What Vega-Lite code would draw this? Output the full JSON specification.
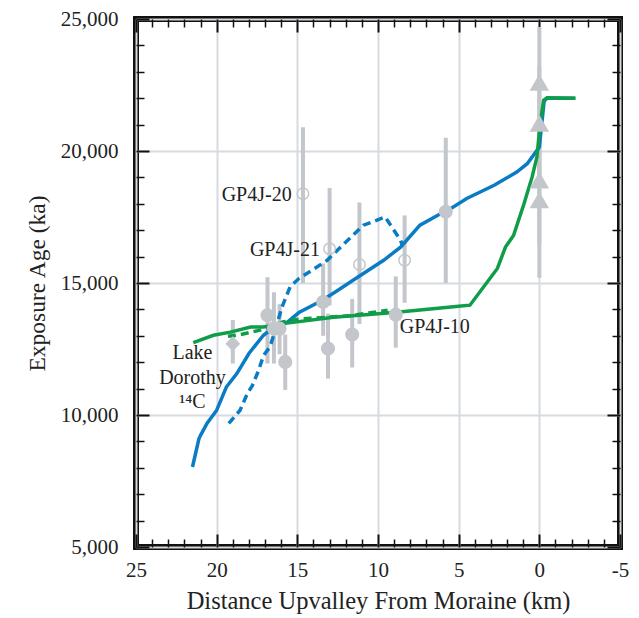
{
  "$schema": "https://vega.github.io/schema/vega-lite/v6.json",
  "width": 484,
  "height": 528,
  "autosize": {"type": "none"},
  "padding": {"left": 136, "top": 19, "right": 19, "bottom": 71},
  "background": "white",
  "config": {
    "view": {"stroke": "#111111", "strokeWidth": 6},
    "font": "'Liberation Serif', 'DejaVu Serif', serif",
    "axis": {"labelFont": "'Liberation Serif', 'DejaVu Serif', serif", "titleFont": "'Liberation Serif', 'DejaVu Serif', serif", "labelColor": "#222222", "titleColor": "#222222", "titleFontWeight": "normal"}
  },
  "datasets": {
    "filled": [
      {"x": 5.8, "y": 17700, "lo": 15000, "hi": 20500},
      {"x": 8.9, "y": 13800, "lo": 12550, "hi": 15250},
      {"x": 13.4, "y": 14280, "lo": 13000, "hi": 15740},
      {"x": 13.1, "y": 12520, "lo": 11380, "hi": 13840},
      {"x": 11.6, "y": 13050, "lo": 11800, "hi": 14400},
      {"x": 16.85, "y": 13780, "lo": 11950, "hi": 15220},
      {"x": 16.45, "y": 13280, "lo": 11950, "hi": 14650},
      {"x": 16.1, "y": 13270, "lo": 12300, "hi": 14200},
      {"x": 15.75, "y": 12010, "lo": 10950, "hi": 13050}
    ],
    "open": [
      {"x": 14.65, "y": 18380, "lo": 15000, "hi": 20900},
      {"x": 13.0, "y": 16300, "lo": 14150, "hi": 18600},
      {"x": 11.15, "y": 15700, "lo": 13450, "hi": 18050},
      {"x": 8.35, "y": 15860, "lo": 14250, "hi": 17560}
    ],
    "tri": [
      {"x": 0, "y": 22600, "lo": 20500, "hi": 24700},
      {"x": 0, "y": 21050, "lo": 18900, "hi": 23200},
      {"x": 0, "y": 18900, "lo": 16500, "hi": 21300},
      {"x": 0, "y": 18150, "lo": 15200, "hi": 21100}
    ],
    "diamond": [
      {"x": 19.0, "y": 12700, "lo": 11950, "hi": 13600}
    ],
    "blue": [
      {"x": 21.5, "y": 8030}, {"x": 21.1, "y": 9100}, {"x": 21.0, "y": 9230}, {"x": 20.6, "y": 9680},
      {"x": 20.0, "y": 10180}, {"x": 19.4, "y": 11060}, {"x": 18.75, "y": 11570}, {"x": 18.0, "y": 12330},
      {"x": 17.6, "y": 12640}, {"x": 17.1, "y": 13020}, {"x": 16.7, "y": 13210}, {"x": 16.2, "y": 13350},
      {"x": 15.65, "y": 13500}, {"x": 14.9, "y": 13880}, {"x": 13.5, "y": 14330}, {"x": 12.6, "y": 14680},
      {"x": 11.5, "y": 15120}, {"x": 9.65, "y": 15860}, {"x": 8.6, "y": 16360}, {"x": 7.4, "y": 17190},
      {"x": 6.1, "y": 17630}, {"x": 5.8, "y": 17700}, {"x": 4.5, "y": 18200}, {"x": 2.8, "y": 18700},
      {"x": 1.4, "y": 19200}, {"x": 0.75, "y": 19520}, {"x": 0.0, "y": 20150}, {"x": -0.3, "y": 21900},
      {"x": -0.5, "y": 22000}, {"x": -2.2, "y": 22000}
    ],
    "blueDash": [
      {"x": 19.25, "y": 9680}, {"x": 18.55, "y": 10180}, {"x": 18.1, "y": 10810}, {"x": 17.8, "y": 11100},
      {"x": 17.4, "y": 11690}, {"x": 17.1, "y": 12250}, {"x": 16.7, "y": 12580}, {"x": 16.4, "y": 13150},
      {"x": 15.95, "y": 14090}, {"x": 15.45, "y": 14850}, {"x": 14.9, "y": 15170}, {"x": 14.1, "y": 15480},
      {"x": 13.15, "y": 15860}, {"x": 12.1, "y": 16490}, {"x": 10.9, "y": 17190}, {"x": 9.55, "y": 17500},
      {"x": 9.35, "y": 17310}, {"x": 8.6, "y": 16620}, {"x": 8.5, "y": 16430}
    ],
    "green": [
      {"x": 21.45, "y": 12740}, {"x": 20.2, "y": 13020}, {"x": 19.15, "y": 13140}, {"x": 17.9, "y": 13330},
      {"x": 17.1, "y": 13330}, {"x": 15.65, "y": 13480}, {"x": 12.75, "y": 13700}, {"x": 9.0, "y": 13880},
      {"x": 5.0, "y": 14120}, {"x": 4.3, "y": 14160}, {"x": 2.6, "y": 15550}, {"x": 2.1, "y": 16360},
      {"x": 1.6, "y": 16800}, {"x": 0.95, "y": 18000}, {"x": 0.45, "y": 19010}, {"x": 0.15, "y": 19770},
      {"x": -0.05, "y": 21040}, {"x": -0.27, "y": 21920}, {"x": -0.48, "y": 22020}, {"x": -2.25, "y": 22000}
    ],
    "greenDash": [
      {"x": 19.3, "y": 12980}, {"x": 18.5, "y": 13050}, {"x": 17.2, "y": 13230}, {"x": 15.85, "y": 13530},
      {"x": 14.8, "y": 13640}, {"x": 11.7, "y": 13760}, {"x": 9.4, "y": 13970}
    ],
    "labelsRight": [
      {"x": 15.35, "y": 18330, "t": "GP4J-20"},
      {"x": 13.6, "y": 16250, "t": "GP4J-21"}
    ],
    "labelsLeft": [
      {"x": 8.65, "y": 13330, "t": "GP4J-10"}
    ],
    "labelsCenter": [
      {"x": 21.5, "y": 12360, "t": "Lake"},
      {"x": 21.5, "y": 11410, "t": "Dorothy"},
      {"x": 21.5, "y": 10480, "t": "¹⁴C"}
    ]
  },
  "resolve": {"axis": {"x": "independent", "y": "independent"}},
  "layer": [
    {
      "data": {"name": "filled"},
      "mark": {"type": "rule", "color": "#c3c6cb", "strokeWidth": 4},
      "encoding": {
        "x": {"field": "x", "type": "quantitative", "scale": {"domain": [-5, 25], "reverse": true, "nice": false, "zero": false},
          "axis": {"orient": "bottom", "values": [25, 20, 15, 10, 5, 0, -5], "labelExpr": "'' + datum.value", "ticks": false, "domain": false, "grid": true, "gridColor": "#d6dae1", "gridWidth": 2, "labelFontSize": 21, "labelPadding": 12, "labelFlush": false, "title": "Distance Upvalley From Moraine (km)", "titleFontSize": 24.5, "titlePadding": 9}},
        "y": {"field": "lo", "type": "quantitative", "scale": {"domain": [5000, 25000], "nice": false, "zero": false},
          "axis": {"orient": "left", "values": [5000, 10000, 15000, 20000, 25000], "format": ",d", "ticks": false, "domain": false, "grid": true, "gridColor": "#d6dae1", "gridWidth": 2, "labelFontSize": 21, "labelPadding": 18, "labelFlush": false, "title": "Exposure Age (ka)", "titleFontSize": 23.5, "titlePadding": 11}},
        "y2": {"field": "hi"}
      }
    },
    {
      "data": {"name": "open"},
      "mark": {"type": "rule", "color": "#c3c6cb", "strokeWidth": 4},
      "encoding": {
        "x": {"field": "x", "type": "quantitative", "scale": {"domain": [-5, 25], "reverse": true, "nice": false, "zero": false},
          "axis": {"orient": "bottom", "values": [24, 23, 22, 21, 19, 18, 17, 16, 14, 13, 12, 11, 9, 8, 7, 6, 4, 3, 2, 1, -1, -2, -3, -4], "labels": false, "domain": false, "grid": false, "ticks": true, "tickSize": -8, "tickWidth": 1.5, "tickColor": "#111111", "title": null}},
        "y": {"field": "lo", "type": "quantitative", "scale": {"domain": [5000, 25000], "nice": false, "zero": false},
          "axis": {"orient": "left", "values": [6000, 7000, 8000, 9000, 11000, 12000, 13000, 14000, 16000, 17000, 18000, 19000, 21000, 22000, 23000, 24000], "labels": false, "domain": false, "grid": false, "ticks": true, "tickSize": -8, "tickWidth": 1.5, "tickColor": "#111111", "title": null}},
        "y2": {"field": "hi"}
      }
    },
    {
      "data": {"name": "tri"},
      "mark": {"type": "rule", "color": "#c3c6cb", "strokeWidth": 4},
      "encoding": {
        "x": {"field": "x", "type": "quantitative", "scale": {"domain": [-5, 25], "reverse": true, "nice": false, "zero": false},
          "axis": {"orient": "top", "values": [24, 23, 22, 21, 19, 18, 17, 16, 14, 13, 12, 11, 9, 8, 7, 6, 4, 3, 2, 1, -1, -2, -3, -4], "labels": false, "domain": false, "grid": false, "ticks": true, "tickSize": -8, "tickWidth": 1.5, "tickColor": "#111111", "title": null}},
        "y": {"field": "lo", "type": "quantitative", "scale": {"domain": [5000, 25000], "nice": false, "zero": false},
          "axis": {"orient": "right", "values": [6000, 7000, 8000, 9000, 11000, 12000, 13000, 14000, 16000, 17000, 18000, 19000, 21000, 22000, 23000, 24000], "labels": false, "domain": false, "grid": false, "ticks": true, "tickSize": -8, "tickWidth": 1.5, "tickColor": "#111111", "title": null}},
        "y2": {"field": "hi"}
      }
    },
    {
      "data": {"name": "diamond"},
      "mark": {"type": "rule", "color": "#c3c6cb", "strokeWidth": 4},
      "encoding": {
        "x": {"field": "x", "type": "quantitative", "scale": {"domain": [-5, 25], "reverse": true, "nice": false, "zero": false},
          "axis": {"orient": "top", "values": [25, 20, 15, 10, 5, 0, -5], "labels": false, "domain": false, "grid": false, "ticks": true, "tickSize": -13, "tickWidth": 2, "tickColor": "#111111", "title": null}},
        "y": {"field": "lo", "type": "quantitative", "scale": {"domain": [5000, 25000], "nice": false, "zero": false},
          "axis": {"orient": "right", "values": [5000, 10000, 15000, 20000, 25000], "labels": false, "domain": false, "grid": false, "ticks": true, "tickSize": -13, "tickWidth": 2, "tickColor": "#111111", "title": null}},
        "y2": {"field": "hi"}
      }
    },
    {
      "data": {"name": "blue"},
      "mark": {"type": "line", "color": "#0a7cc4", "strokeWidth": 3.5},
      "encoding": {
        "x": {"field": "x", "type": "quantitative", "scale": {"domain": [-5, 25], "reverse": true, "nice": false, "zero": false},
          "axis": {"orient": "bottom", "values": [25, 20, 15, 10, 5, 0, -5], "labels": false, "domain": false, "grid": false, "ticks": true, "tickSize": -13, "tickWidth": 2, "tickColor": "#111111", "title": null}},
        "y": {"field": "y", "type": "quantitative", "scale": {"domain": [5000, 25000], "nice": false, "zero": false},
          "axis": {"orient": "left", "values": [5000, 10000, 15000, 20000, 25000], "labels": false, "domain": false, "grid": false, "ticks": true, "tickSize": -13, "tickWidth": 2, "tickColor": "#111111", "title": null}}
      }
    },
    {
      "data": {"name": "green"},
      "mark": {"type": "line", "color": "#0f9d49", "strokeWidth": 3.5},
      "encoding": {
        "x": {"field": "x", "type": "quantitative", "scale": {"domain": [-5, 25], "reverse": true, "nice": false, "zero": false}, "axis": null},
        "y": {"field": "y", "type": "quantitative", "scale": {"domain": [5000, 25000], "nice": false, "zero": false}, "axis": null}
      }
    },
    {
      "data": {"name": "blueDash"},
      "mark": {"type": "line", "color": "#0a7cc4", "strokeWidth": 3.5, "strokeDash": [8, 5]},
      "encoding": {
        "x": {"field": "x", "type": "quantitative", "scale": {"domain": [-5, 25], "reverse": true, "nice": false, "zero": false}, "axis": null},
        "y": {"field": "y", "type": "quantitative", "scale": {"domain": [5000, 25000], "nice": false, "zero": false}, "axis": null}
      }
    },
    {
      "data": {"name": "greenDash"},
      "mark": {"type": "line", "color": "#0f9d49", "strokeWidth": 3.5, "strokeDash": [8, 5]},
      "encoding": {
        "x": {"field": "x", "type": "quantitative", "scale": {"domain": [-5, 25], "reverse": true, "nice": false, "zero": false}, "axis": null},
        "y": {"field": "y", "type": "quantitative", "scale": {"domain": [5000, 25000], "nice": false, "zero": false}, "axis": null}
      }
    },
    {
      "data": {"name": "filled"},
      "mark": {"type": "point", "shape": "circle", "filled": true, "color": "#c3c6cb", "opacity": 1, "size": 200},
      "encoding": {
        "x": {"field": "x", "type": "quantitative", "scale": {"domain": [-5, 25], "reverse": true, "nice": false, "zero": false}, "axis": null},
        "y": {"field": "y", "type": "quantitative", "scale": {"domain": [5000, 25000], "nice": false, "zero": false}, "axis": null}
      }
    },
    {
      "data": {"name": "open"},
      "mark": {"type": "point", "shape": "circle", "filled": false, "color": "#c3c6cb", "opacity": 1, "strokeWidth": 1.5, "size": 130},
      "encoding": {
        "x": {"field": "x", "type": "quantitative", "scale": {"domain": [-5, 25], "reverse": true, "nice": false, "zero": false}, "axis": null},
        "y": {"field": "y", "type": "quantitative", "scale": {"domain": [5000, 25000], "nice": false, "zero": false}, "axis": null}
      }
    },
    {
      "data": {"name": "tri"},
      "mark": {"type": "point", "shape": "triangle-up", "filled": true, "color": "#c3c6cb", "opacity": 1, "size": 380},
      "encoding": {
        "x": {"field": "x", "type": "quantitative", "scale": {"domain": [-5, 25], "reverse": true, "nice": false, "zero": false}, "axis": null},
        "y": {"field": "y", "type": "quantitative", "scale": {"domain": [5000, 25000], "nice": false, "zero": false}, "axis": null}
      }
    },
    {
      "data": {"name": "diamond"},
      "mark": {"type": "point", "shape": "diamond", "filled": true, "color": "#c3c6cb", "opacity": 1, "size": 220},
      "encoding": {
        "x": {"field": "x", "type": "quantitative", "scale": {"domain": [-5, 25], "reverse": true, "nice": false, "zero": false}, "axis": null},
        "y": {"field": "y", "type": "quantitative", "scale": {"domain": [5000, 25000], "nice": false, "zero": false}, "axis": null}
      }
    },
    {
      "data": {"name": "labelsRight"},
      "mark": {"type": "text", "align": "right", "baseline": "middle", "font": "'Liberation Serif', 'DejaVu Serif', serif", "fontSize": 20, "color": "#222222"},
      "encoding": {
        "x": {"field": "x", "type": "quantitative", "scale": {"domain": [-5, 25], "reverse": true, "nice": false, "zero": false}, "axis": null},
        "y": {"field": "y", "type": "quantitative", "scale": {"domain": [5000, 25000], "nice": false, "zero": false}, "axis": null},
        "text": {"field": "t"}
      }
    },
    {
      "data": {"name": "labelsLeft"},
      "mark": {"type": "text", "align": "left", "baseline": "middle", "font": "'Liberation Serif', 'DejaVu Serif', serif", "fontSize": 20, "color": "#222222"},
      "encoding": {
        "x": {"field": "x", "type": "quantitative", "scale": {"domain": [-5, 25], "reverse": true, "nice": false, "zero": false}, "axis": null},
        "y": {"field": "y", "type": "quantitative", "scale": {"domain": [5000, 25000], "nice": false, "zero": false}, "axis": null},
        "text": {"field": "t"}
      }
    },
    {
      "data": {"name": "labelsCenter"},
      "mark": {"type": "text", "align": "center", "baseline": "middle", "font": "'Liberation Serif', 'DejaVu Serif', serif", "fontSize": 20, "color": "#222222"},
      "encoding": {
        "x": {"field": "x", "type": "quantitative", "scale": {"domain": [-5, 25], "reverse": true, "nice": false, "zero": false}, "axis": null},
        "y": {"field": "y", "type": "quantitative", "scale": {"domain": [5000, 25000], "nice": false, "zero": false}, "axis": null},
        "text": {"field": "t"}
      }
    }
  ]
}
